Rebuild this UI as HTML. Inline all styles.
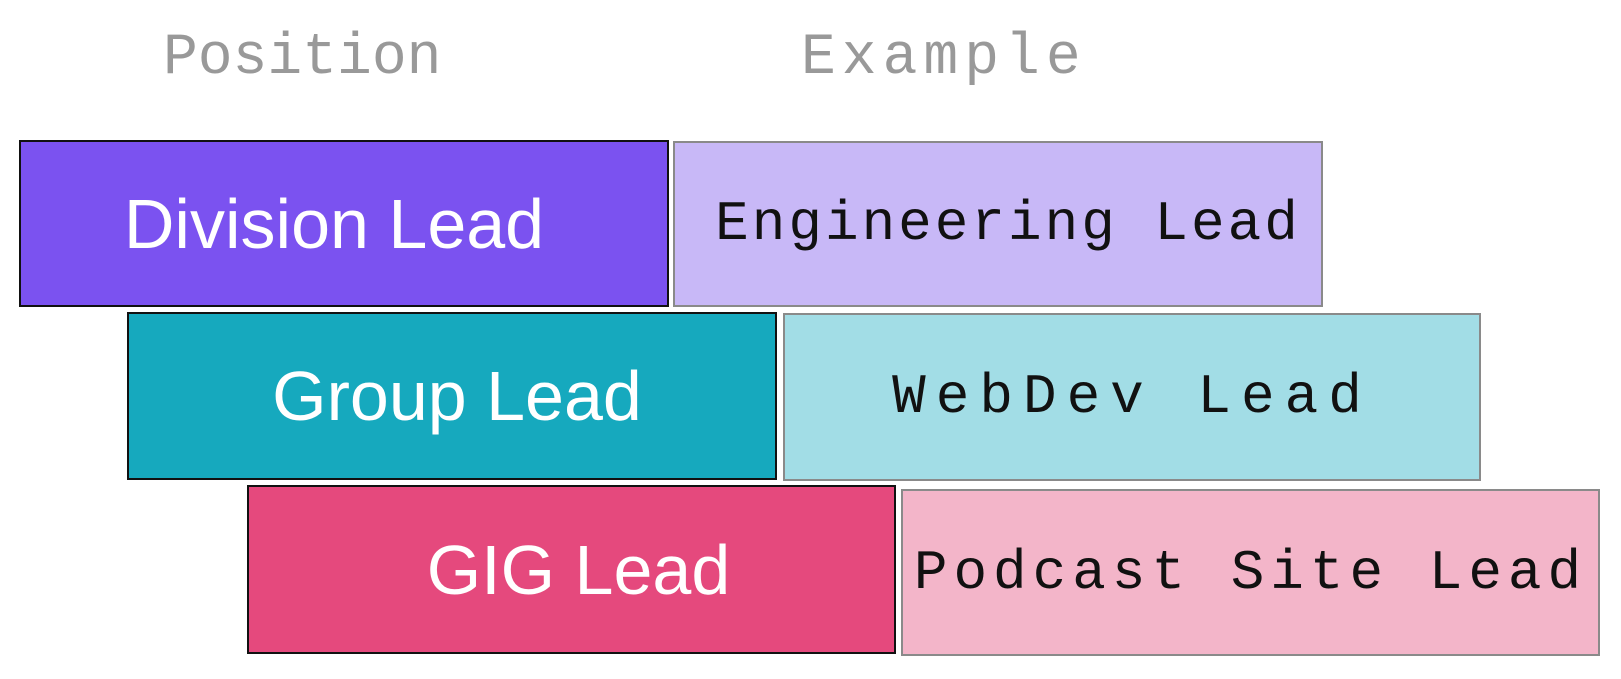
<!DOCTYPE html>
<html><head><meta charset="utf-8"><style>
body{margin:0;width:1621px;height:679px;background:#fff;position:relative;overflow:hidden;font-family:"Liberation Sans",sans-serif}
.b{position:absolute;box-sizing:border-box;display:flex;align-items:center;justify-content:center}
.p{border:2px solid #111;color:#fff;font-size:70px}
.e{border:2px solid #8a8a8a;color:#111;font-size:56px;font-family:"Liberation Mono","DejaVu Sans Mono",monospace;letter-spacing:1px}
.h{position:absolute;color:#999;font-size:58px;font-family:"Liberation Mono","DejaVu Sans Mono",monospace;top:26px}
</style></head><body>
<div class="h" style="left:163px">Position</div>
<div class="h" style="left:801px;letter-spacing:6px">Example</div>
<div class="b p" style="left:19px;top:140px;width:650px;height:167px;background:#7B52F0;padding-right:20px">Division Lead</div>
<div class="b e" style="left:673px;top:141px;width:650px;height:166px;background:#C8B8F7;letter-spacing:3px;padding-left:20px">Engineering Lead</div>
<div class="b p" style="left:127px;top:312px;width:650px;height:168px;background:#16A9BE;padding-left:10px">Group Lead</div>
<div class="b e" style="left:783px;top:313px;width:698px;height:168px;background:#A2DDE6;letter-spacing:10px">WebDev Lead</div>
<div class="b p" style="left:247px;top:485px;width:649px;height:169px;background:#E5497D;padding-left:14px">GIG Lead</div>
<div class="b e" style="left:901px;top:489px;width:699px;height:167px;background:#F3B5C9;letter-spacing:6px">Podcast Site Lead</div>
</body></html>
